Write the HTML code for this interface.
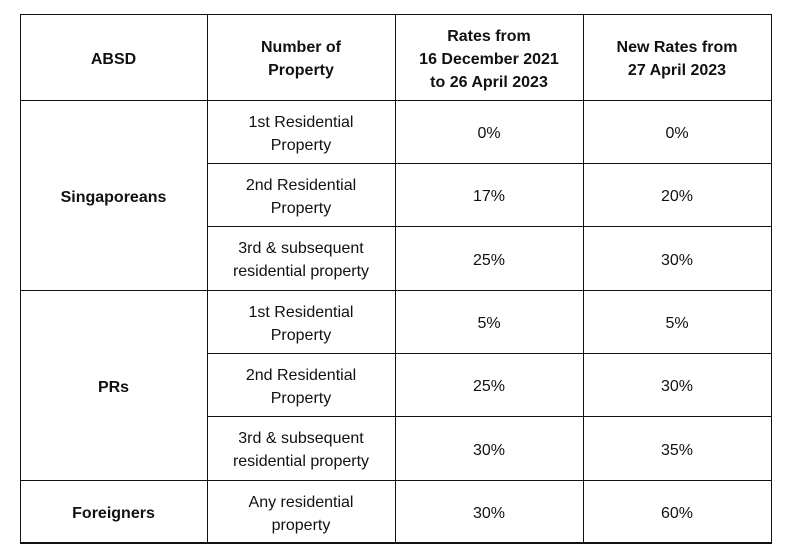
<!DOCTYPE html>
<html><head><meta charset="utf-8"><style>
body{margin:0;width:791px;height:558px;background:#fff;position:relative;font-family:"Liberation Sans",sans-serif;color:#111;overflow:hidden}
.c{position:absolute;box-sizing:border-box;display:flex;align-items:center;justify-content:center;text-align:center;font-size:16px;line-height:23px;padding-top:4px}
.b{font-weight:bold}
.h{position:absolute;background:#111;height:1px}
.v{position:absolute;background:#111;width:1px}
</style></head><body>
<div>
<div class="h" style="left:20px;top:14px;width:752px"></div>
<div class="h" style="left:20px;top:100px;width:752px"></div>
<div class="h" style="left:207px;top:163px;width:565px"></div>
<div class="h" style="left:207px;top:226px;width:565px"></div>
<div class="h" style="left:20px;top:290px;width:752px"></div>
<div class="h" style="left:207px;top:353px;width:565px"></div>
<div class="h" style="left:207px;top:416px;width:565px"></div>
<div class="h" style="left:20px;top:480px;width:752px"></div>
<div class="h" style="left:20px;top:542px;width:752px;height:2px"></div>
<div class="v" style="left:20px;top:14px;height:530px"></div>
<div class="v" style="left:207px;top:14px;height:530px"></div>
<div class="v" style="left:395px;top:14px;height:530px"></div>
<div class="v" style="left:583px;top:14px;height:530px"></div>
<div class="v" style="left:771px;top:14px;height:530px"></div>

<div class="c b" style="left:20px;top:14px;width:187px;height:86px">ABSD</div>
<div class="c b" style="left:207px;top:14px;width:188px;height:86px">Number of<br>Property</div>
<div class="c b" style="left:395px;top:14px;width:188px;height:86px">Rates from<br>16 December 2021<br>to 26 April 2023</div>
<div class="c b" style="left:583px;top:14px;width:188px;height:86px">New Rates from<br>27 April 2023</div>

<div class="c b" style="left:20px;top:100px;width:187px;height:190px">Singaporeans</div>
<div class="c b" style="left:20px;top:290px;width:187px;height:190px">PRs</div>
<div class="c b" style="left:20px;top:480px;width:187px;height:63px">Foreigners</div>

<div class="c" style="left:207px;top:100px;width:188px;height:63px">1st Residential<br>Property</div>
<div class="c" style="left:395px;top:100px;width:188px;height:63px">0%</div>
<div class="c" style="left:583px;top:100px;width:188px;height:63px">0%</div>
<div class="c" style="left:207px;top:163px;width:188px;height:63px">2nd Residential<br>Property</div>
<div class="c" style="left:395px;top:163px;width:188px;height:63px">17%</div>
<div class="c" style="left:583px;top:163px;width:188px;height:63px">20%</div>
<div class="c" style="left:207px;top:226px;width:188px;height:64px">3rd &amp; subsequent<br>residential property</div>
<div class="c" style="left:395px;top:226px;width:188px;height:64px">25%</div>
<div class="c" style="left:583px;top:226px;width:188px;height:64px">30%</div>

<div class="c" style="left:207px;top:290px;width:188px;height:63px">1st Residential<br>Property</div>
<div class="c" style="left:395px;top:290px;width:188px;height:63px">5%</div>
<div class="c" style="left:583px;top:290px;width:188px;height:63px">5%</div>
<div class="c" style="left:207px;top:353px;width:188px;height:63px">2nd Residential<br>Property</div>
<div class="c" style="left:395px;top:353px;width:188px;height:63px">25%</div>
<div class="c" style="left:583px;top:353px;width:188px;height:63px">30%</div>
<div class="c" style="left:207px;top:416px;width:188px;height:64px">3rd &amp; subsequent<br>residential property</div>
<div class="c" style="left:395px;top:416px;width:188px;height:64px">30%</div>
<div class="c" style="left:583px;top:416px;width:188px;height:64px">35%</div>

<div class="c" style="left:207px;top:480px;width:188px;height:63px">Any residential<br>property</div>
<div class="c" style="left:395px;top:480px;width:188px;height:63px">30%</div>
<div class="c" style="left:583px;top:480px;width:188px;height:63px">60%</div>
</div>
</body></html>
